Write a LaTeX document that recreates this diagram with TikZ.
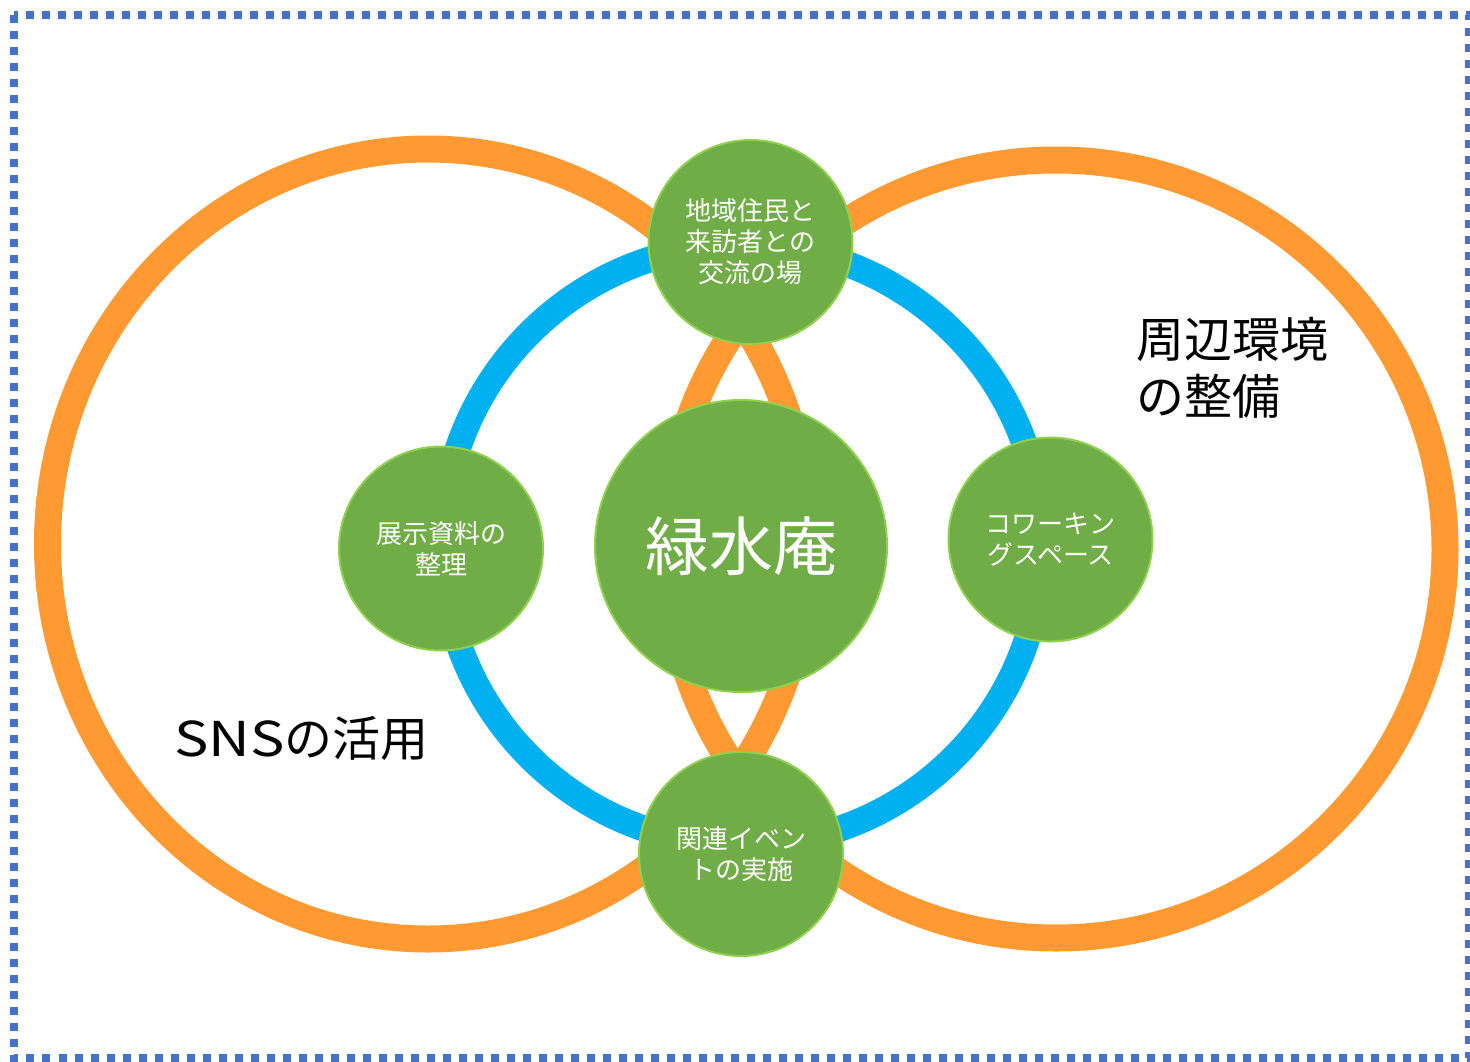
\documentclass[tikz,border=0pt]{standalone}
\usepackage{fontspec}
\newfontfamily\jp{Noto Sans CJK JP}
\definecolor{orng}{HTML}{FF9A33}
\definecolor{blu}{HTML}{00B0F0}
\definecolor{grn}{HTML}{70AD47}
\definecolor{grnedge}{HTML}{8FD14F}
\definecolor{bord}{HTML}{4472C4}
\begin{document}
\begin{tikzpicture}[x=1pt,y=-1pt,
  greennode/.style={circle, fill=grn, draw=grnedge, line width=2pt, inner sep=0pt,
    minimum size=204pt, text=white, align=center, font=\jp\fontsize{26}{31}\selectfont},
  ring/.style={line width=27pt},
  label/.style={inner sep=0pt, text=black, align=left, font=\jp\fontsize{48}{57}\selectfont}]
\useasboundingbox (0,0) rectangle (1470,1061);
\draw[bord, line width=8pt, dash pattern=on 8pt off 8pt] (13.5,15) rectangle (1468.5,1058);
% big orange circles
\draw[orng, ring] (428,544) ellipse[x radius=380.5pt, y radius=395pt];
\draw[orng, ring] (1056,549) circle[radius=389pt];
% blue circle
\draw[blu, line width=26pt] (742,545) circle[radius=300pt];
% green nodes
\node[greennode] (top) at (750.5,242) {地域住民と\\来訪者との\\交流の場};
\node[greennode] (bottom) at (741,854) {関連イベン\\トの実施};
\node[greennode] (left) at (441,548.5) {展示資料の\\整理};
\node[greennode] (right) at (1050.5,539.5) {コワーキン\\グスペース};
\node[greennode, minimum size=292pt, font=\jp\fontsize{64}{70}\selectfont] (center) at (741,546) {緑水庵};
% labels
\node[label, anchor=west] (env) at (1136,368) {周辺環境\\の整備};
\node[label, anchor=west] (sns) at (174,738) {\scalebox{1.2}[1]{SNS}の活用};
\end{tikzpicture}
\end{document}
